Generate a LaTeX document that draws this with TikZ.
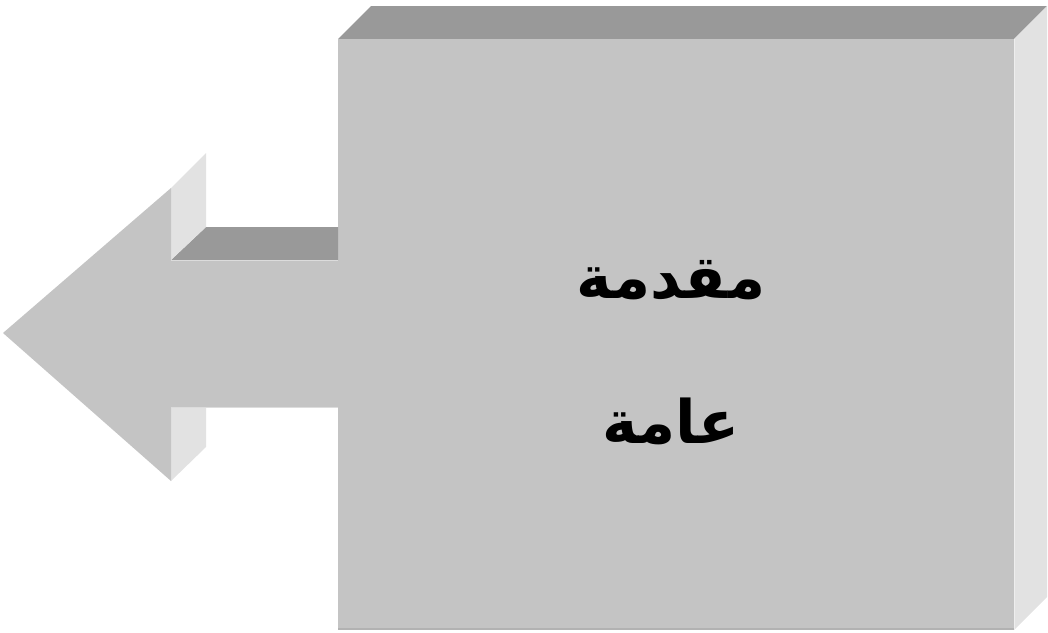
\documentclass[tikz,border=0pt]{standalone}
\usepackage{fontspec}
\newfontfamily\arabicfont[Script=Arabic]{DejaVu Sans}
\TeXXeTstate=1
\definecolor{faceGray}{HTML}{C4C4C4}
\definecolor{topGray}{HTML}{999999}
\definecolor{sideGray}{HTML}{E2E2E2}
\definecolor{edgeGray}{HTML}{B2B2B2}
\usetikzlibrary{positioning}

\begin{document}
\begin{tikzpicture}[x=1pt,y=-1pt,
  title/.style={font=\fontsize{60}{72}\selectfont\arabicfont\bfseries,inner sep=0pt,anchor=base}]
  \useasboundingbox (0,0) rectangle (1048,632);
  % box: top, side, front
  \fill[topGray] (338,39) -- (371,6) -- (1047,6) -- (1014,39) -- cycle;
  \fill[sideGray] (1014,39) -- (1047,6) -- (1047,597) -- (1014,630) -- cycle;
  \fill[faceGray] (338,39) rectangle (1014,630);
  \draw[edgeGray,line width=1.2pt] (338,629) -- (1014,629);
  \draw[sideGray!60!white,line width=1pt] (1014,39) -- (1014,630);
  % arrow: depth faces
  \fill[topGray] (171,260) -- (206,227) -- (338,227) -- (338,260) -- cycle;
  \fill[sideGray] (171,188) -- (206,153) -- (206,227) -- (171,260) -- cycle;
  \fill[sideGray] (171,407) -- (206,407) -- (206,447) -- (171,481) -- cycle;
  % arrow: front
  \fill[faceGray] (3,333) -- (171,188) -- (171,260) -- (338,260) -- (338,407)
    -- (171,407) -- (171,481) -- cycle;
  \draw[faceGray!60!white,line width=0.8pt] (171,260) -- (338,260);
  \draw[faceGray!60!white,line width=0.8pt] (171,407) -- (338,407);
  % texts
  \node[title] (intro) at (671,298) {\beginR مقدمة\endR};
  \node[title] (general) at ([yshift=-145pt]intro.base) {\beginR عامة\endR};
\end{tikzpicture}
\end{document}
